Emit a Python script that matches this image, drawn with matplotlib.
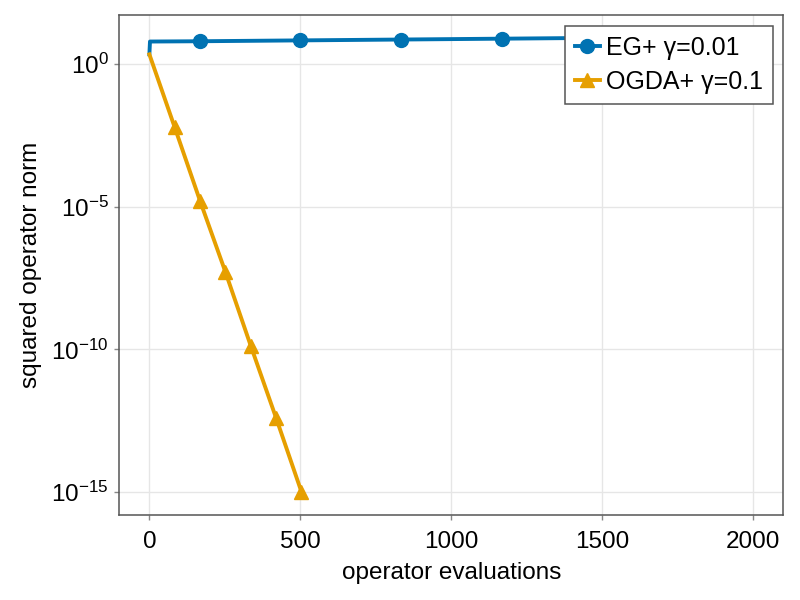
import matplotlib
matplotlib.use("Agg")
import matplotlib.pyplot as plt
import numpy as np

plt.rcParams['font.family'] = ['Liberation Sans', 'DejaVu Sans']
plt.rcParams['mathtext.fontset'] = 'custom'
plt.rcParams['mathtext.rm'] = 'Liberation Sans'
plt.rcParams['mathtext.it'] = 'Liberation Sans'

# EG+ : operator evaluations and log10 of squared operator norm
egEvals = [0, 2, 167, 500, 833, 1167, 1500, 1833, 2000]
egLog = [0.34, 0.79, 0.80, 0.83, 0.86, 0.89, 0.92, 0.95, 0.96]
egMarks = [2, 3, 4, 5, 6, 7]

# OGDA+
ogEvals = [0, 84, 168, 252, 336, 420, 504]
ogLog = [0.34, -2.22, -4.80, -7.29, -9.88, -12.41, -15.0]
ogMarks = [1, 2, 3, 4, 5, 6]

xTicks = [0, 500, 1000, 1500, 2000]
yTicks = [0, -5, -10, -15]

blue = "#0072B2"
orange = "#E69F00"

fig = plt.figure(figsize=(8, 6), dpi=100)
ax = fig.add_axes([0.149, 0.142, 0.830, 0.833])

ax.plot(egEvals, 10.0 ** np.array(egLog), color=blue, lw=2.8,
        marker="o", markersize=10, markevery=egMarks, label="EG+ γ=0.01")
ax.plot(ogEvals, 10.0 ** np.array(ogLog), color=orange, lw=2.8,
        marker="^", markersize=10, markevery=ogMarks, label="OGDA+ γ=0.1")

ax.set_yscale("log")
ax.set_xlim(-100, 2100)
ax.set_ylim(10 ** -15.8, 10 ** 1.72)
ax.set_xticks(xTicks)
ax.set_yticks([10.0 ** t for t in yTicks])
ax.set_yticklabels(["$10^{%d}$" % t for t in yTicks])
ax.yaxis.set_minor_locator(matplotlib.ticker.NullLocator())

ax.grid(True, color="#e6e6e6", lw=1)
ax.set_axisbelow(True)
for s in ax.spines.values():
    s.set_color("#555555")
    s.set_linewidth(1.1)
ax.tick_params(labelsize=17.5, color="#888888", length=3.5, width=1)
ax.tick_params(axis="x", pad=8)
ax.tick_params(axis="y", pad=4)

ax.set_xlabel("operator evaluations", fontsize=17.5, labelpad=7)
ax.set_ylabel("squared operator norm", fontsize=17.5, labelpad=7)

leg = ax.legend(loc="upper right", fontsize=18, fancybox=False,
                edgecolor="#555555", framealpha=1, handlelength=1.0,
                handletextpad=0.25, borderpad=0.4, labelspacing=0.4,
                borderaxespad=0, bbox_to_anchor=(0.985, 0.978))
leg.get_frame().set_linewidth(1.1)

fig.savefig("out.png", dpi=100)
